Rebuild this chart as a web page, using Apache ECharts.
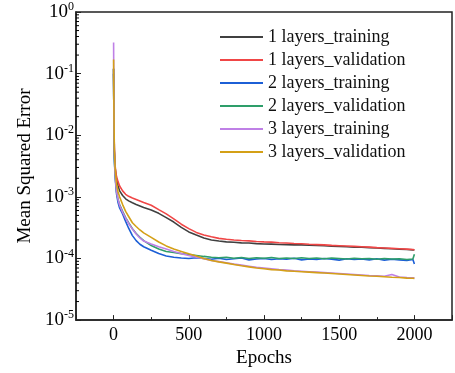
<!DOCTYPE html>
<html><head><meta charset="utf-8">
<script src="https://cdn.jsdelivr.net/npm/echarts@6/dist/echarts.min.js"></script>
<style>html,body{margin:0;padding:0;background:#fff}#c{width:455px;height:373px}</style>
</head><body><div id="c"></div>
<script>
const epochs = [0,2,5,10,15,20,30,40,60,80,100,125,150,175,200,250,300,350,400,450,500,550,600,650,700,750,800,850,900,950,1000,1050,1100,1150,1200,1250,1300,1350,1400,1450,1500,1550,1600,1650,1700,1750,1800,1850,1900,1950,1990,2000];
const oneTrain = [0.10,0.018,5.5e-3,3.0e-3,2.3e-3,1.9e-3,1.5e-3,1.25e-3,1.05e-3,9.3e-4,8.6e-4,8.0e-4,7.5e-4,7.1e-4,6.7e-4,6.1e-4,5.4e-4,4.6e-4,3.9e-4,3.2e-4,2.7e-4,2.4e-4,2.15e-4,2.0e-4,1.92e-4,1.86e-4,1.83e-4,1.79e-4,1.78e-4,1.74e-4,1.72e-4,1.71e-4,1.69e-4,1.68e-4,1.66e-4,1.66e-4,1.64e-4,1.62e-4,1.61e-4,1.58e-4,1.57e-4,1.55e-4,1.53e-4,1.52e-4,1.5e-4,1.48e-4,1.46e-4,1.44e-4,1.42e-4,1.40e-4,1.38e-4,1.37e-4];
const oneVal = [0.12,0.02,6.0e-3,3.2e-3,2.5e-3,2.1e-3,1.75e-3,1.5e-3,1.25e-3,1.1e-3,1.02e-3,9.6e-4,9.1e-4,8.6e-4,8.1e-4,7.3e-4,6.2e-4,5.3e-4,4.4e-4,3.6e-4,3.05e-4,2.65e-4,2.4e-4,2.25e-4,2.12e-4,2.05e-4,2.0e-4,1.96e-4,1.93e-4,1.89e-4,1.86e-4,1.84e-4,1.80e-4,1.78e-4,1.75e-4,1.73e-4,1.70e-4,1.68e-4,1.66e-4,1.63e-4,1.61e-4,1.59e-4,1.57e-4,1.55e-4,1.53e-4,1.50e-4,1.48e-4,1.46e-4,1.44e-4,1.42e-4,1.40e-4,1.38e-4];
const twoTrain = [0.12,0.015,4.0e-3,2.2e-3,1.5e-3,1.1e-3,8.0e-4,6.6e-4,5.3e-4,4.0e-4,3.1e-4,2.35e-4,1.95e-4,1.7e-4,1.55e-4,1.36e-4,1.2e-4,1.1e-4,1.05e-4,1.02e-4,1.0e-4,1.03e-4,1.0e-4,9.7e-5,1.01e-4,9.6e-5,9.9e-5,1.02e-4,9.5e-5,9.8e-5,1.0e-4,9.6e-5,9.9e-5,9.7e-5,1.01e-4,9.5e-5,9.8e-5,9.6e-5,1.0e-4,9.7e-5,9.4e-5,9.9e-5,9.6e-5,9.8e-5,9.5e-5,9.9e-5,9.4e-5,9.7e-5,9.5e-5,9.3e-5,9.6e-5,8.1e-5];
const twoVal = [0.12,0.016,4.2e-3,2.3e-3,1.6e-3,1.2e-3,9.0e-4,7.5e-4,5.8e-4,4.6e-4,3.8e-4,3.05e-4,2.55e-4,2.2e-4,1.95e-4,1.62e-4,1.42e-4,1.3e-4,1.25e-4,1.2e-4,1.16e-4,1.12e-4,1.08e-4,1.05e-4,1.03e-4,1.05e-4,1.01e-4,1.04e-4,1.0e-4,1.03e-4,1.01e-4,1.04e-4,1.0e-4,1.02e-4,1.0e-4,1.03e-4,1.0e-4,1.02e-4,9.9e-5,1.02e-4,1.0e-4,9.8e-5,1.01e-4,9.9e-5,1.0e-4,9.7e-5,1.0e-4,9.8e-5,9.9e-5,9.6e-5,9.8e-5,1.17e-4];
const threeTrain = [0.32,0.03,5.0e-3,2.4e-3,1.6e-3,1.2e-3,9.0e-4,7.3e-4,5.6e-4,4.5e-4,3.7e-4,3.0e-4,2.5e-4,2.15e-4,1.92e-4,1.72e-4,1.55e-4,1.42e-4,1.3e-4,1.2e-4,1.12e-4,1.05e-4,9.9e-5,9.3e-5,8.9e-5,8.5e-5,8.1e-5,7.8e-5,7.5e-5,7.2e-5,7.0e-5,6.8e-5,6.6e-5,6.5e-5,6.3e-5,6.2e-5,6.1e-5,6.0e-5,5.9e-5,5.8e-5,5.7e-5,5.6e-5,5.5e-5,5.4e-5,5.3e-5,5.25e-5,5.15e-5,5.5e-5,5.0e-5,4.9e-5,4.85e-5,4.8e-5];
const threeVal = [0.17,0.03,6.0e-3,3.0e-3,2.1e-3,1.6e-3,1.2e-3,1.0e-3,7.5e-4,5.8e-4,4.8e-4,3.8e-4,3.3e-4,2.9e-4,2.6e-4,2.2e-4,1.85e-4,1.6e-4,1.42e-4,1.3e-4,1.19e-4,1.1e-4,1.0e-4,9.3e-5,8.8e-5,8.4e-5,8.0e-5,7.6e-5,7.3e-5,7.0e-5,6.8e-5,6.6e-5,6.5e-5,6.3e-5,6.2e-5,6.1e-5,6.0e-5,5.9e-5,5.8e-5,5.7e-5,5.6e-5,5.5e-5,5.4e-5,5.3e-5,5.2e-5,5.15e-5,5.05e-5,4.95e-5,4.9e-5,4.8e-5,4.78e-5,4.75e-5];

const seriesNames = ['1 layers_training','1 layers_validation','2 layers_training','2 layers_validation','3 layers_training','3 layers_validation'];
const seriesValues = [oneTrain, oneVal, twoTrain, twoVal, threeTrain, threeVal];
const seriesColors = ['#404040','#f04646','#1c5fd6','#2e9e6a','#bf80e6','#d4a017'];
const xLabelValues = [0,500,1000,1500,2000];
const yMinorTicks = [];
for (let d = -5; d < 0; d++) for (let m = 2; m <= 9; m++) yMinorTicks.push(m * Math.pow(10, d));

const FONT = 'Liberation Serif';
const X_MIN = -250, X_MAX = 2250;

const chart = echarts.init(document.getElementById('c'), null, {renderer:'canvas'});
const series = seriesNames.map((n, i) => ({
  name: n, type: 'line', symbol: 'none', showSymbol: false,
  lineStyle: {color: seriesColors[i], width: 1.6}, itemStyle: {color: seriesColors[i]},
  data: epochs.map((e, k) => [e, seriesValues[i][k]]), z: 2 + i, animation: false
}));
series.push({
  type: 'custom', silent: true, clip: false, animation: false, z: 10,
  data: yMinorTicks.map(v => [X_MIN, v]),
  renderItem: (params, api) => {
    const p = api.coord([api.value(0), api.value(1)]);
    return {type: 'line', shape: {x1: p[0], y1: p[1], x2: p[0] + 3, y2: p[1]}, style: {stroke: '#000', lineWidth: 1}};
  }
});

chart.setOption({
  backgroundColor: '#fff',
  animation: false,
  grid: {left: 76, top: 12, bottom: 52, right: -4, show: true, borderColor: '#222', borderWidth: 1.5, backgroundColor: 'transparent'},
  legend: {
    orient: 'vertical', left: 220, top: 28, padding: 0, itemWidth: 43, itemHeight: 2, itemGap: 5, icon: 'rect',
    data: seriesNames,
    textStyle: {fontFamily: FONT, fontSize: 18, color: '#111', lineHeight: 18}
  },
  xAxis: [{
    type: 'value', min: X_MIN, max: X_MAX, splitNumber: 5,
    name: 'Epochs', nameLocation: 'middle', nameGap: 22,
    nameTextStyle: {fontFamily: FONT, fontSize: 19, color: '#000'},
    axisLine: {show: true, onZero: false, lineStyle: {color: '#222', width: 1.5}},
    axisTick: {show: true, inside: true, length: 5, lineStyle: {color: '#222', width: 1}},
    axisLabel: {margin: 6, fontFamily: FONT, fontSize: 18, color: '#000',
      formatter: v => xLabelValues.indexOf(v) >= 0 ? String(v) : ''},
    splitLine: {show: false}
  }, {
    type: 'value', min: X_MIN, max: X_MAX, interval: 250, position: 'bottom',
    axisLine: {show: false, onZero: false}, axisLabel: {show: false}, splitLine: {show: false},
    axisTick: {show: true, inside: true, length: 3, lineStyle: {color: '#222', width: 1}}
  }],
  yAxis: {
    type: 'log', logBase: 10, min: 1e-5, max: 1,
    name: 'Mean Squared Error', nameLocation: 'middle', nameGap: 40,
    nameTextStyle: {fontFamily: FONT, fontSize: 19, color: '#000'},
    axisLine: {show: true, onZero: false, lineStyle: {color: '#222', width: 1.5}},
    axisTick: {show: true, inside: true, length: 5, lineStyle: {color: '#222', width: 1}},
    splitLine: {show: false},
    axisLabel: {
      margin: 2, fontFamily: FONT, color: '#000',
      formatter: v => '{b|10}{s|' + Math.round(Math.log10(v)) + '}',
      rich: {
        b: {fontFamily: FONT, fontSize: 19, color: '#000'},
        s: {fontFamily: FONT, fontSize: 12, color: '#000', padding: [0, 0, 10, 0]}
      }
    }
  },
  series: series
});
</script>
</body></html>
